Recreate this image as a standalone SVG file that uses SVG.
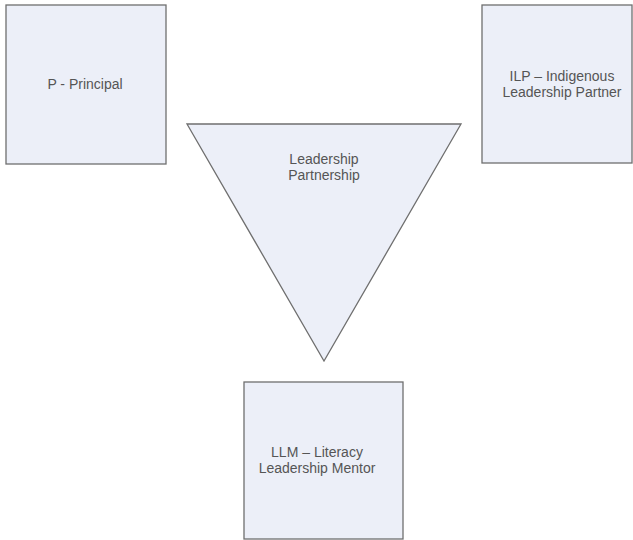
<svg xmlns="http://www.w3.org/2000/svg" width="633" height="540" viewBox="0 0 633 540">
  <style>
    .shape { fill: #eceff8; stroke: #6f6f6f; stroke-width: 1.3; }
    .label { font-family: "Liberation Sans", Arial, sans-serif; font-size: 14px; fill: #555555; text-anchor: middle; }
  </style>
  <rect width="633" height="540" fill="#ffffff"/>
  <g id="principal">
    <rect class="shape" x="6" y="5" width="160" height="159"/>
    <text class="label" x="85" y="89">P - Principal</text>
  </g>
  <g id="indigenous-partner">
    <rect class="shape" x="482" y="5" width="150" height="158"/>
    <text class="label" x="562" y="81">ILP – Indigenous</text>
    <text class="label" x="562" y="97">Leadership Partner</text>
  </g>
  <g id="leadership-partnership">
    <polygon class="shape" points="187,124 461,124 324,361"/>
    <text class="label" x="324" y="164">Leadership</text>
    <text class="label" x="324" y="180">Partnership</text>
  </g>
  <g id="literacy-mentor">
    <rect class="shape" x="244" y="382" width="159" height="157"/>
    <text class="label" x="317" y="457">LLM – Literacy</text>
    <text class="label" x="317" y="473">Leadership Mentor</text>
  </g>
  <g id="connectors"></g>
</svg>
